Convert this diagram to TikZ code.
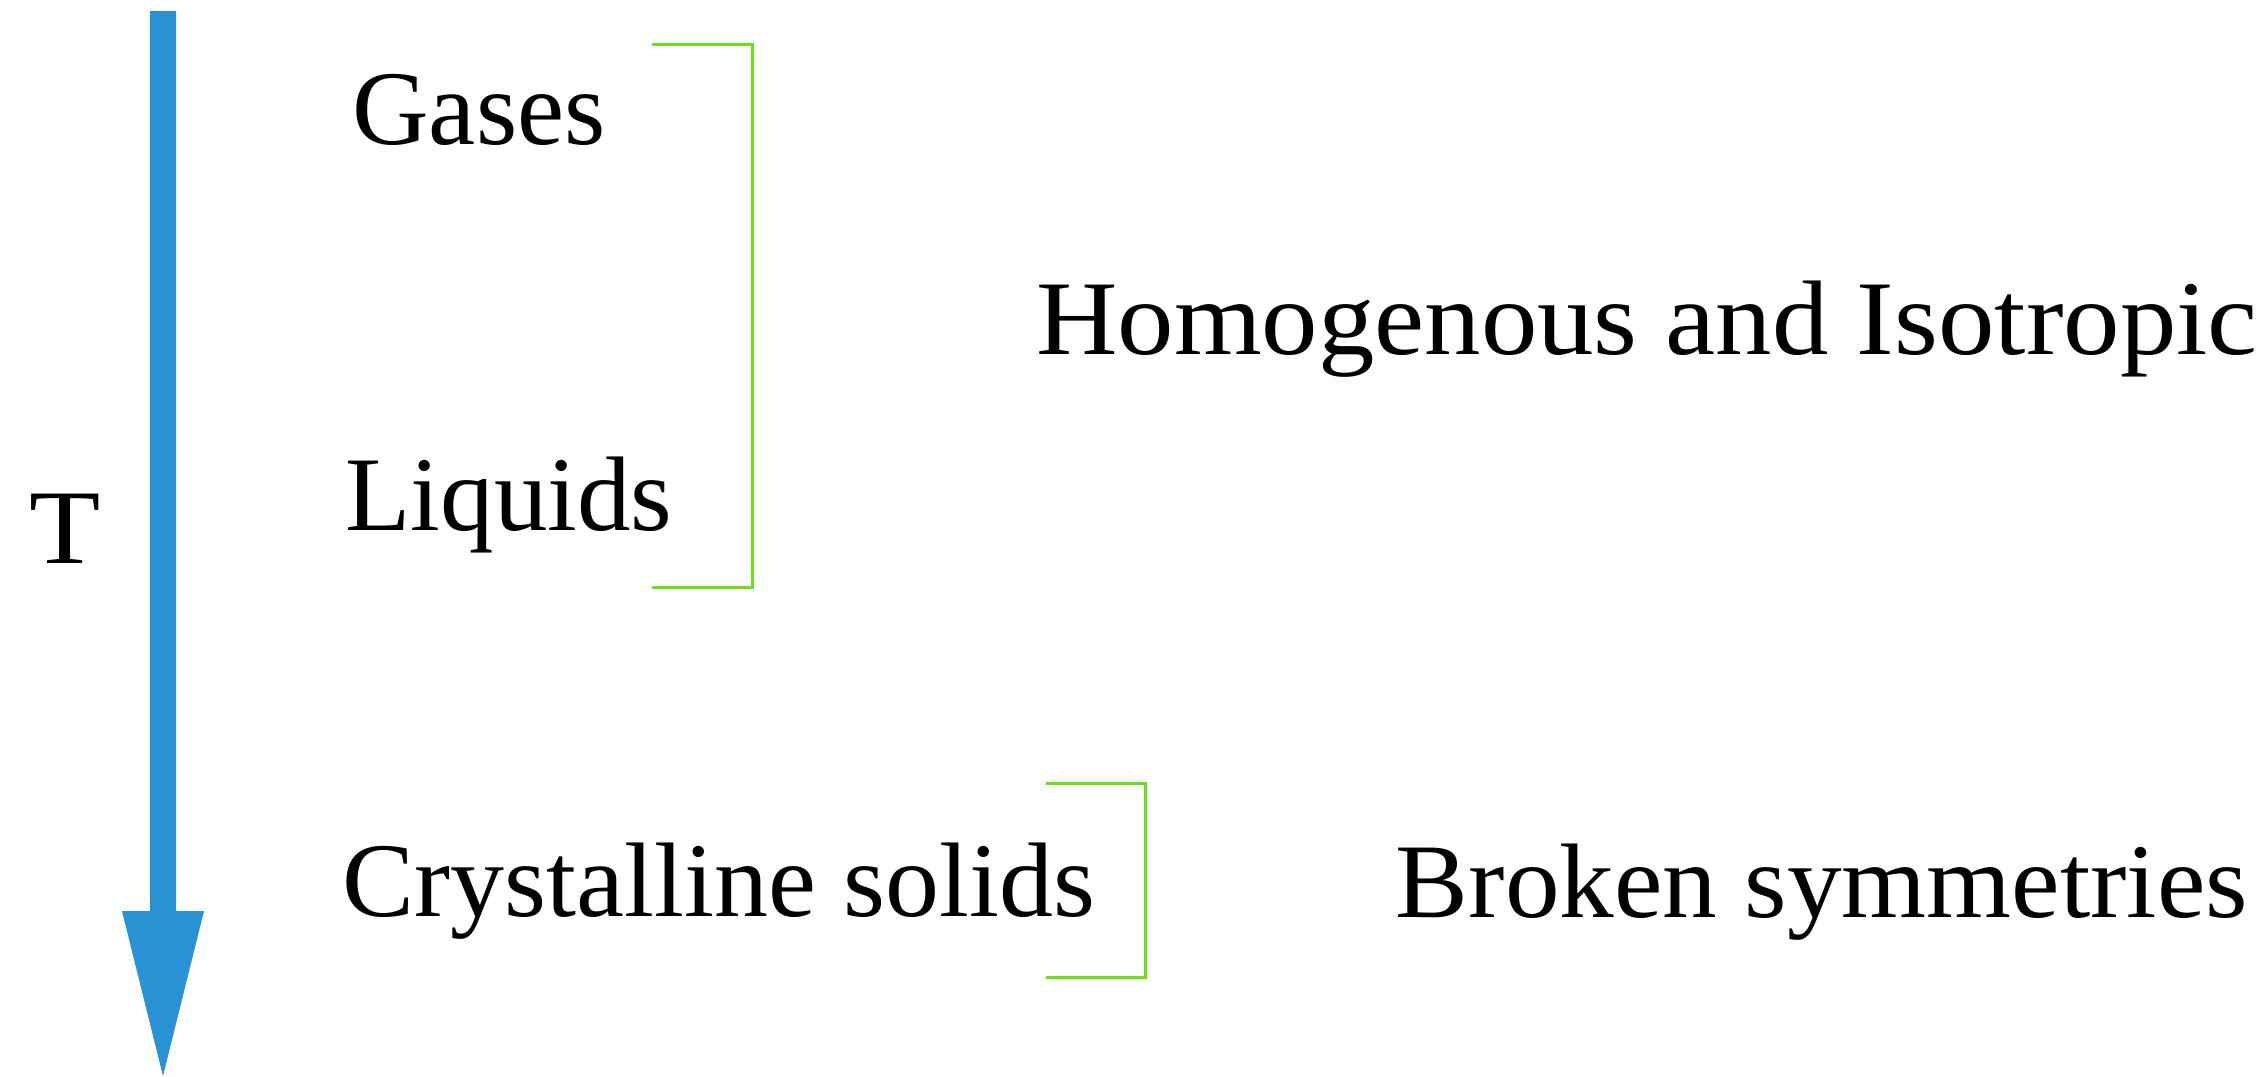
\documentclass[tikz,border=0pt]{standalone}
\usepackage{fontspec}
\setmainfont{Liberation Serif}
\definecolor{arrowblue}{RGB}{40,146,212}
\definecolor{bracketgreen}{RGB}{108,222,30}
\begin{document}
\begin{tikzpicture}[x=0.5pt,y=-0.5pt,
  lbl/.style={anchor=base,inner sep=0pt,font=\fontsize{53}{60}\selectfont},
  bracket/.style={draw=bracketgreen,line width=1.5pt}]
\useasboundingbox (0,0) rectangle (2268,1076);
% temperature arrow
\coordinate (top) at (163,11);
\coordinate (tip) at (163,1076);
\fill[arrowblue] (150,11) -- (176,11) -- (176,911) -- (204,911) -- (tip) -- (122,911) -- (150,911) -- cycle;
\node[lbl] (T) at (65,563) {\scalebox{1.1}[1]{T}};
% labels
\node[lbl] (gases) at (479,144) {Gases};
\node[lbl] (liquids) at (509,530) {\scalebox{1.01}[1]{Liquids}};
\node[lbl] (cryst) at (719,916) {\scalebox{1.018}[1]{Crystalline solids}};
\node[lbl] (homog) at (1647,354) {\scalebox{1.064}[1]{Homogenous and Isotropic}};
\node[lbl] (broken) at (1822,917) {\scalebox{1.03}[1]{Broken symmetries}};
% brackets
\coordinate (b1a) at (652,44);
\coordinate (b1b) at (752,44);
\coordinate (b1c) at (752,587);
\coordinate (b1d) at (652,587);
\draw[bracket] (b1a) -- (b1b) -- (b1c) -- (b1d);
\coordinate (b2a) at (1046,783);
\coordinate (b2b) at (1145,783);
\coordinate (b2c) at (1145,977);
\coordinate (b2d) at (1046,977);
\draw[bracket] (b2a) -- (b2b) -- (b2c) -- (b2d);
\end{tikzpicture}
\end{document}
